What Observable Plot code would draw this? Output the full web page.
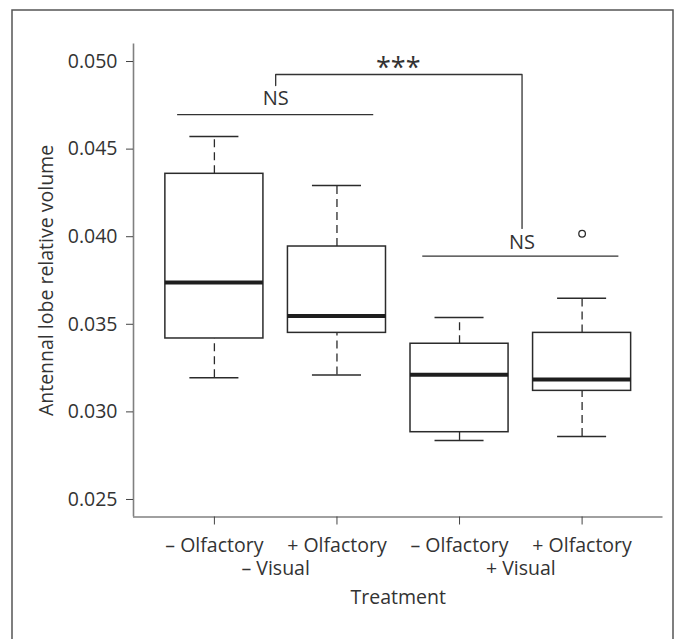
<!DOCTYPE html>
<html>
<head>
<meta charset="utf-8">
<script src="https://cdn.jsdelivr.net/npm/d3@7"></script>
<script src="https://cdn.jsdelivr.net/npm/@observablehq/plot@0.6"></script>
<style>
  html, body { margin: 0; padding: 0; background: #fff; }
  #chart { width: 678px; height: 639px; overflow: hidden; }
</style>
</head>
<body>
<div id="chart"></div>
<script>
// ---- data ----
const groups = [1, 2, 3, 4];
const olfactoryLabels = ["– Olfactory", "+ Olfactory", "– Olfactory", "+ Olfactory"];
const visualPositions = [1.5, 3.5];
const visualLabels = ["– Visual", "+ Visual"];
const whiskerLow  = [0.03195, 0.03210, 0.02837, 0.02860];
const q1          = [0.03419, 0.03451, 0.02884, 0.03120];
const median      = [0.03739, 0.03548, 0.03212, 0.03185];
const q3          = [0.04359, 0.03944, 0.03389, 0.03451];
const whiskerHigh = [0.04572, 0.04292, 0.03539, 0.03649];
const outlierGroup = [4];
const outlierValue = [0.04017];
const yTicks = [0.025, 0.030, 0.035, 0.040, 0.045, 0.050];
const yLabel = "Antennal lobe relative volume";
const xLabel = "Treatment";
// significance annotations
const sigBarX1 = [0.7, 2.7];
const sigBarX2 = [2.3, 4.3];
const sigBarY  = [0.04697, 0.03889];
const bracketX = [1.5, 1.5, 3.51, 3.51];
const bracketY = [0.04863, 0.04926, 0.04926, 0.04047];
const sigTextX = [1.5, 2.5, 3.51];
const sigTextY = [0.04789, 0.04985, 0.03969];
const sigText  = ["NS", "***", "NS"];

// ---- tables built from the arrays ----
const boxes = groups.map((g, i) => ({
  g, lo: whiskerLow[i], q1: q1[i], med: median[i], q3: q3[i], hi: whiskerHigh[i]
}));
const outliers = outlierGroup.map((g, i) => ({g, v: outlierValue[i]}));
const sigBars = sigBarX1.map((x1, i) => ({x1, x2: sigBarX2[i], y: sigBarY[i]}));
const bracket = bracketX.map((x, i) => ({x, y: bracketY[i]}));
const sigLabels = sigText.map((t, i) => ({x: sigTextX[i], y: sigTextY[i], t}));

const halfBox = 0.4, halfCap = 0.2;
const ink = "#2b2b2b";
const font = "'Open Sans', 'Noto Sans', sans-serif";
const fs = 19.5;

const plot = Plot.plot({
  width: 678,
  height: 639,
  marginLeft: 133,
  marginRight: 15.5,
  marginTop: 43.5,
  marginBottom: 122.5,
  style: {fontFamily: font, fontSize: fs + "px", color: "#333", background: "#fff"},
  x: {type: "linear", domain: [0.34, 4.66], axis: null},
  y: {domain: [0.024, 0.051], axis: null},
  marks: [
    // L-shaped box (bty = "l")
    Plot.ruleX([0.34], {stroke: "#808080", strokeWidth: 1.6}),
    Plot.ruleY([0.024], {stroke: "#808080", strokeWidth: 1.6}),
    // y axis
    Plot.axisY({ticks: yTicks, tickFormat: d => d.toFixed(3), tickSize: 7, tickPadding: 9,
      stroke: "#444", fill: "#333", fontSize: fs, label: null}),
    Plot.text([yLabel], {frameAnchor: "left", textAnchor: "middle", lineAnchor: "middle",
      rotate: -90, dx: -87, fontSize: fs, fill: "#333"}),
    // x axis: olfactory row
    Plot.axisX({ticks: groups, tickFormat: (d, i) => olfactoryLabels[i], tickSize: 8, tickPadding: 13,
      stroke: "#444", fill: "#333", fontSize: fs, label: null}),
    // visual row
    Plot.axisX({ticks: visualPositions, tickFormat: (d, i) => visualLabels[i], tickSize: 0, tickPadding: 44,
      fill: "#333", fontSize: fs, label: null}),
    Plot.text([xLabel], {frameAnchor: "bottom", lineAnchor: "middle", dy: 80.5, fontSize: fs, fill: "#333"}),
    // whiskers (dashed)
    Plot.ruleX(boxes, {x: "g", y1: "q3", y2: "hi", stroke: ink, strokeWidth: 1.3, strokeDasharray: "8,5"}),
    Plot.ruleX(boxes, {x: "g", y1: "lo", y2: "q1", stroke: ink, strokeWidth: 1.3, strokeDasharray: "8,5"}),
    // caps
    Plot.ruleY(boxes, {y: "hi", x1: d => d.g - halfCap, x2: d => d.g + halfCap, stroke: ink, strokeWidth: 1.5}),
    Plot.ruleY(boxes, {y: "lo", x1: d => d.g - halfCap, x2: d => d.g + halfCap, stroke: ink, strokeWidth: 1.5}),
    // boxes
    Plot.rect(boxes, {x1: d => d.g - halfBox, x2: d => d.g + halfBox, y1: "q1", y2: "q3",
      fill: "#fff", stroke: ink, strokeWidth: 1.5}),
    // medians
    Plot.ruleY(boxes, {y: "med", x1: d => d.g - halfBox, x2: d => d.g + halfBox, stroke: "#1e1e1e", strokeWidth: 4}),
    // outliers
    Plot.dot(outliers, {x: "g", y: "v", r: 3.3, stroke: ink, strokeWidth: 1.3, fill: "none"}),
    // significance bars
    Plot.ruleY(sigBars, {y: "y", x1: "x1", x2: "x2", stroke: "#333", strokeWidth: 1.3}),
    Plot.line(bracket, {x: "x", y: "y", stroke: "#333", strokeWidth: 1.3, curve: "linear"}),
    Plot.text(sigLabels.filter(d => d.t !== "***"), {x: "x", y: "y", text: "t", fontSize: 20, fill: "#333"}),
    Plot.text(sigLabels.filter(d => d.t === "***"), {x: "x", y: "y", text: "t", fontSize: 27, fill: "#333", dy: 4})
  ]
});

// outer frame of the figure
d3.select(plot).append("rect")
  .attr("x", 12).attr("y", 10).attr("width", 661).attr("height", 645)
  .attr("fill", "none").attr("stroke", "#555").attr("stroke-width", 1.5);

document.getElementById("chart").appendChild(plot);
</script>
</body>
</html>
